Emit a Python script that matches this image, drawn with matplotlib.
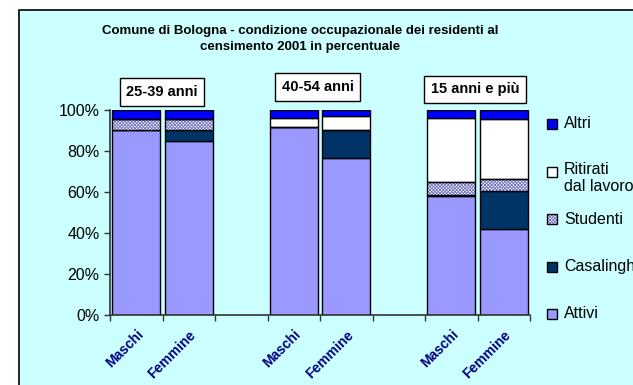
import numpy as np
import matplotlib
matplotlib.use("Agg")
import matplotlib.pyplot as plt
from matplotlib.patches import Rectangle

plt.rcParams['font.family'] = ['Liberation Sans', 'DejaVu Sans']
plt.rcParams['hatch.linewidth'] = 0.6

# percentuali per gruppo di eta' e sesso
gruppi = ['25-39 anni', '40-54 anni', '15 anni e più']
sessi = ['Maschi', 'Femmine']
attivi = [90.2, 84.7, 91.5, 76.7, 58.0, 42.1]
casalinghe = [0.0, 5.5, 0.0, 13.5, 0.7, 18.5]
studenti = [5.2, 5.2, 0.0, 0.0, 6.2, 5.9]
ritirati = [0.3, 0.0, 4.4, 7.0, 31.1, 29.0]
altri = [4.3, 4.6, 4.1, 2.8, 4.0, 4.5]

titolo = ('Comune di Bologna - condizione occupazionale dei residenti al\n'
          'censimento 2001 in percentuale')

W, H = 633, 385
fig = plt.figure(figsize=(W / 100, H / 100), dpi=100)
bg = '#CCFFFF'

# pannello azzurro con bordo
fig.patches.append(Rectangle((19 / W, -0.1), 1.2, 1 - 10 / H + 0.1,
                             transform=fig.transFigure, fc=bg, ec='black',
                             lw=1.2, zorder=-5))

ax = fig.add_axes([110 / W, 70 / H, 420 / W, 205 / H])
ax.set_facecolor('none')

x = np.array([0, 1, 3, 4, 6, 7])
w = 0.92
serie = [
    ('Attivi', attivi, '#9999FF', None),
    ('Casalinghe', casalinghe, '#003366', None),
    ('Studenti', studenti, 'white', 'xxxxxxxxxx'),
    ('Ritirati\ndal lavoro', ritirati, 'white', None),
    ('Altri', altri, '#0000FF', None),
]
base = np.zeros(len(x))
for nome, vals, col, hatch in serie:
    vals = np.array(vals)
    if hatch:
        ax.bar(x, vals, w, bottom=base, color=col, hatch=hatch,
               edgecolor='#7070C0', lw=0, zorder=2)
        ax.bar(x, vals, w, bottom=base, fill=False, edgecolor='black',
               lw=1, zorder=3)
    else:
        ax.bar(x, vals, w, bottom=base, color=col, edgecolor='black',
               lw=1, zorder=2)
    base += vals

ax.set_xlim(-0.5, 7.5)
ax.set_ylim(0, 100)
ax.set_yticks(np.arange(0, 101, 20))
ax.set_yticklabels([f'{v}%' for v in range(0, 101, 20)], fontsize=11.5)
ax.tick_params(axis='y', direction='out', length=4, width=1, color='#333333')

ax.set_xticks(x)
ax.set_xticklabels(sessi * 3, rotation=45, ha='right', rotation_mode='anchor',
                   fontsize=10, fontweight='bold', color='#000080')
ax.set_xticks(np.arange(-0.5, 8, 1), minor=True)
ax.tick_params(axis='x', which='major', length=0, pad=9)
ax.tick_params(axis='x', which='minor', direction='out', length=4, width=1,
               color='#333333')

for s in ['top', 'right']:
    ax.spines[s].set_visible(False)
for s in ['left', 'bottom']:
    ax.spines[s].set_color('#333333')
    ax.spines[s].set_linewidth(1.2)

# etichette dei gruppi
pos_gruppi = [(0.49, 108.8), (3.46, 111.2), (6.45, 110.2)]
for g, (gx, gy) in zip(gruppi, pos_gruppi):
    ax.text(gx, gy, g, ha='center', va='center', fontsize=10.5,
            fontweight='bold', clip_on=False,
            bbox=dict(boxstyle='square,pad=0.45', fc='white', ec='black',
                      lw=1))

fig.text(300 / W, 1 - 39 / H, titolo, ha='center', va='center',
         fontsize=9.5, fontweight='bold', linespacing=1.5)

# legenda
leg_y = [124, 171.5, 219, 266.5, 314]
for (nome, vals, col, hatch), yc in zip(serie[::-1], leg_y):
    fig.patches.append(Rectangle((547 / W, 1 - (yc + 5) / H), 10 / W, 10 / H,
                                 transform=fig.transFigure, fc=col,
                                 ec='#7070C0' if hatch else 'black',
                                 hatch=hatch, lw=0 if hatch else 1, zorder=2))
    if hatch:
        fig.patches.append(Rectangle((547 / W, 1 - (yc + 5) / H), 10 / W,
                                     10 / H, transform=fig.transFigure,
                                     fill=False, ec='black', lw=1, zorder=3))
    if '\n' in nome:
        fig.text(564 / W, 1 - (yc - 9) / H, nome, ha='left', va='top',
                 fontsize=11.5, linespacing=1.1)
    else:
        fig.text(564 / W, 1 - yc / H, nome, ha='left', va='center',
                 fontsize=11.5)

fig.savefig('out.png', dpi=100)
